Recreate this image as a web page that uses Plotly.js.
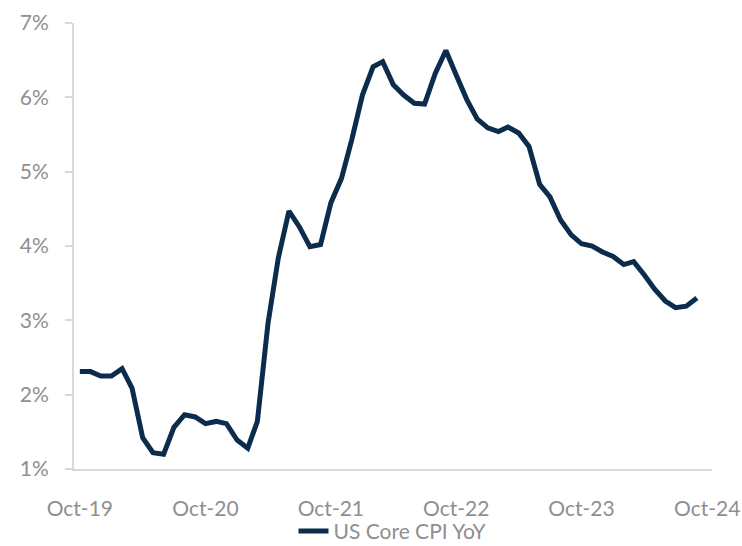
<!DOCTYPE html>
<html>
<head>
<meta charset="utf-8">
<script src="https://cdn.plot.ly/plotly-3.0.1.min.js"></script>
<style>
html,body{margin:0;padding:0;background:#fff;}
#chart{width:742px;height:546px;}
</style>
</head>
<body>
<div id="chart"></div>
<script>
// Monthly dates, Oct-2019 .. Sep-2024
const months = [
  '2019-10-01','2019-11-01','2019-12-01',
  '2020-01-01','2020-02-01','2020-03-01','2020-04-01','2020-05-01','2020-06-01','2020-07-01','2020-08-01','2020-09-01','2020-10-01','2020-11-01','2020-12-01',
  '2021-01-01','2021-02-01','2021-03-01','2021-04-01','2021-05-01','2021-06-01','2021-07-01','2021-08-01','2021-09-01','2021-10-01','2021-11-01','2021-12-01',
  '2022-01-01','2022-02-01','2022-03-01','2022-04-01','2022-05-01','2022-06-01','2022-07-01','2022-08-01','2022-09-01','2022-10-01','2022-11-01','2022-12-01',
  '2023-01-01','2023-02-01','2023-03-01','2023-04-01','2023-05-01','2023-06-01','2023-07-01','2023-08-01','2023-09-01','2023-10-01','2023-11-01','2023-12-01',
  '2024-01-01','2024-02-01','2024-03-01','2024-04-01','2024-05-01','2024-06-01','2024-07-01','2024-08-01','2024-09-01'
];
// US Core CPI YoY, %
const coreCpi = [
  2.31, 2.31, 2.25,
  2.25, 2.35, 2.09, 1.42, 1.22, 1.20, 1.56, 1.73, 1.70, 1.61, 1.64, 1.61,
  1.39, 1.28, 1.64, 2.96, 3.84, 4.47, 4.26, 3.99, 4.02, 4.58, 4.91, 5.43,
  6.03, 6.41, 6.48, 6.17, 6.03, 5.92, 5.91, 6.32, 6.63, 6.30, 5.97, 5.71,
  5.59, 5.54, 5.60, 5.52, 5.34, 4.83, 4.66, 4.35, 4.15, 4.03, 4.00, 3.92,
  3.86, 3.75, 3.79, 3.61, 3.42, 3.26, 3.17, 3.19, 3.30
];
const xTickVals = ['2019-10-01','2020-10-01','2021-10-01','2022-10-01','2023-10-01','2024-10-01'];
const xTickText = ['Oct-19','Oct-20','Oct-21','Oct-22','Oct-23','Oct-24'];
const yTickVals = [1,2,3,4,5,6,7];
const yTickText = ['1%','2%','3%','4%','5%','6%','7%'];
const seriesName = 'US Core CPI YoY';

const FONT = 'Lato, "Source Sans Pro", Roboto, sans-serif';
const GREY = '#8f8f8f';
const AXIS = '#d9d9d9';

const trace = {
  x: months,
  y: coreCpi,
  type: 'scatter',
  mode: 'lines',
  name: seriesName,
  line: {color: '#0b2c4d', width: 5},
  hoverinfo: 'x+y'
};

const layout = {
  width: 742,
  height: 546,
  margin: {l: 74, r: 30, t: 23, b: 77, pad: 0, autoexpand: false},
  paper_bgcolor: '#ffffff',
  plot_bgcolor: '#ffffff',
  font: {family: FONT, size: 21, color: GREY},
  showlegend: true,
  legend: {
    orientation: 'h',
    x: 0.5, xanchor: 'center',
    y: -0.140, yanchor: 'middle',
    font: {family: FONT, size: 21, color: GREY},
    bgcolor: 'rgba(0,0,0,0)'
  },
  xaxis: {
    type: 'date',
    range: ['2019-09-14', '2024-10-15'],
    tickmode: 'array',
    tickvals: xTickVals,
    ticktext: xTickText,
    showgrid: false,
    zeroline: false,
    showline: true,
    linecolor: AXIS,
    linewidth: 2,
    ticks: '',
    ticklabelstandoff: 20,
    tickfont: {family: FONT, size: 21, color: GREY},
    fixedrange: true
  },
  yaxis: {
    range: [1, 7],
    tickmode: 'array',
    tickvals: yTickVals,
    ticktext: yTickText,
    showgrid: false,
    zeroline: false,
    showline: true,
    linecolor: AXIS,
    linewidth: 2,
    ticks: 'outside',
    ticklen: 7,
    tickwidth: 2,
    tickcolor: AXIS,
    ticklabelstandoff: 12,
    tickfont: {family: FONT, size: 21, color: GREY},
    fixedrange: true
  }
};

Plotly.newPlot('chart', [trace], layout, {displayModeBar: false, staticPlot: true});
</script>
</body>
</html>
